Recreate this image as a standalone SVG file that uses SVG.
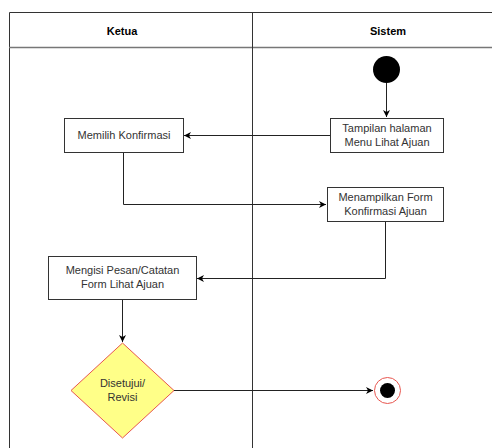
<svg xmlns="http://www.w3.org/2000/svg" width="492" height="448" viewBox="0 0 492 448">
<defs>
<style>
.lane{fill:none;stroke:#333;stroke-width:1}
.box{fill:#fff;stroke:#333;stroke-width:1}
.t{font-family:"Liberation Sans",Arial,sans-serif;font-size:11px;fill:#333;text-anchor:middle}
.h{font-family:"Liberation Sans",Arial,sans-serif;font-size:11px;font-weight:bold;fill:#000;text-anchor:middle}
.c{fill:none;stroke:#222;stroke-width:1}
</style>
<marker id="arr" markerWidth="8" markerHeight="8" refX="7" refY="4" orient="auto" markerUnits="userSpaceOnUse">
<path d="M0,0.5 L7,4 L0,7.5 L2,4 Z" fill="#000"/>
</marker>
</defs>
<rect width="492" height="448" fill="#fff"/>
<g id="lanes">
<path class="lane" d="M9.5,448 V12.5 H492"/>
<line x1="9" y1="47.5" x2="492" y2="47.5" stroke="#777" stroke-width="1.5"/>
<line class="lane" x1="252.5" y1="12" x2="252.5" y2="448"/>
<text class="h" x="122" y="35">Ketua</text>
<text class="h" x="388" y="35">Sistem</text>
</g>
<g id="connectors">
<path class="c" d="M386.5,83 V117" marker-end="url(#arr)"/>
<path class="c" d="M330,135.5 H184" marker-end="url(#arr)"/>
<path class="c" d="M123.5,152 V204.5 H326" marker-end="url(#arr)"/>
<path class="c" d="M385.5,221 V278.5 H197" marker-end="url(#arr)"/>
<path class="c" d="M122.5,299 V342" marker-end="url(#arr)"/>
<path class="c" d="M174,390.5 H373" marker-end="url(#arr)"/>
</g>
<g id="start">
<circle cx="386.5" cy="69.5" r="13.5" fill="#000"/>
</g>
<g id="tampilan">
<rect class="box" x="330.5" y="118.5" width="113" height="34"/>
<text class="t" x="387" y="132">Tampilan halaman</text>
<text class="t" x="387" y="146">Menu Lihat Ajuan</text>
</g>
<g id="memilih">
<rect class="box" x="64.5" y="118.5" width="119" height="34"/>
<text class="t" x="124" y="139">Memilih Konfirmasi</text>
</g>
<g id="menampilkan">
<rect class="box" x="327.5" y="187.5" width="116" height="34"/>
<text class="t" x="385.5" y="201">Menampilkan Form</text>
<text class="t" x="385.5" y="215">Konfirmasi Ajuan</text>
</g>
<g id="mengisi">
<rect class="box" x="48.5" y="256.5" width="148" height="43"/>
<text class="t" x="122.5" y="274">Mengisi Pesan/Catatan</text>
<text class="t" x="122.5" y="288">Form Lihat Ajuan</text>
</g>
<g id="decision">
<path d="M122.5,343 L174,390.5 L122.5,438 L71,390.5 Z" fill="#ffff88" stroke="#e8564f" stroke-width="1"/>
<text class="t" x="122.5" y="387">Disetujui/</text>
<text class="t" x="122.5" y="401">Revisi</text>
</g>
<g id="end">
<circle cx="387.5" cy="390.5" r="13" fill="#fff" stroke="#e8564f" stroke-width="1"/>
<circle cx="387.5" cy="390.5" r="7.5" fill="#000"/>
</g>
</svg>
